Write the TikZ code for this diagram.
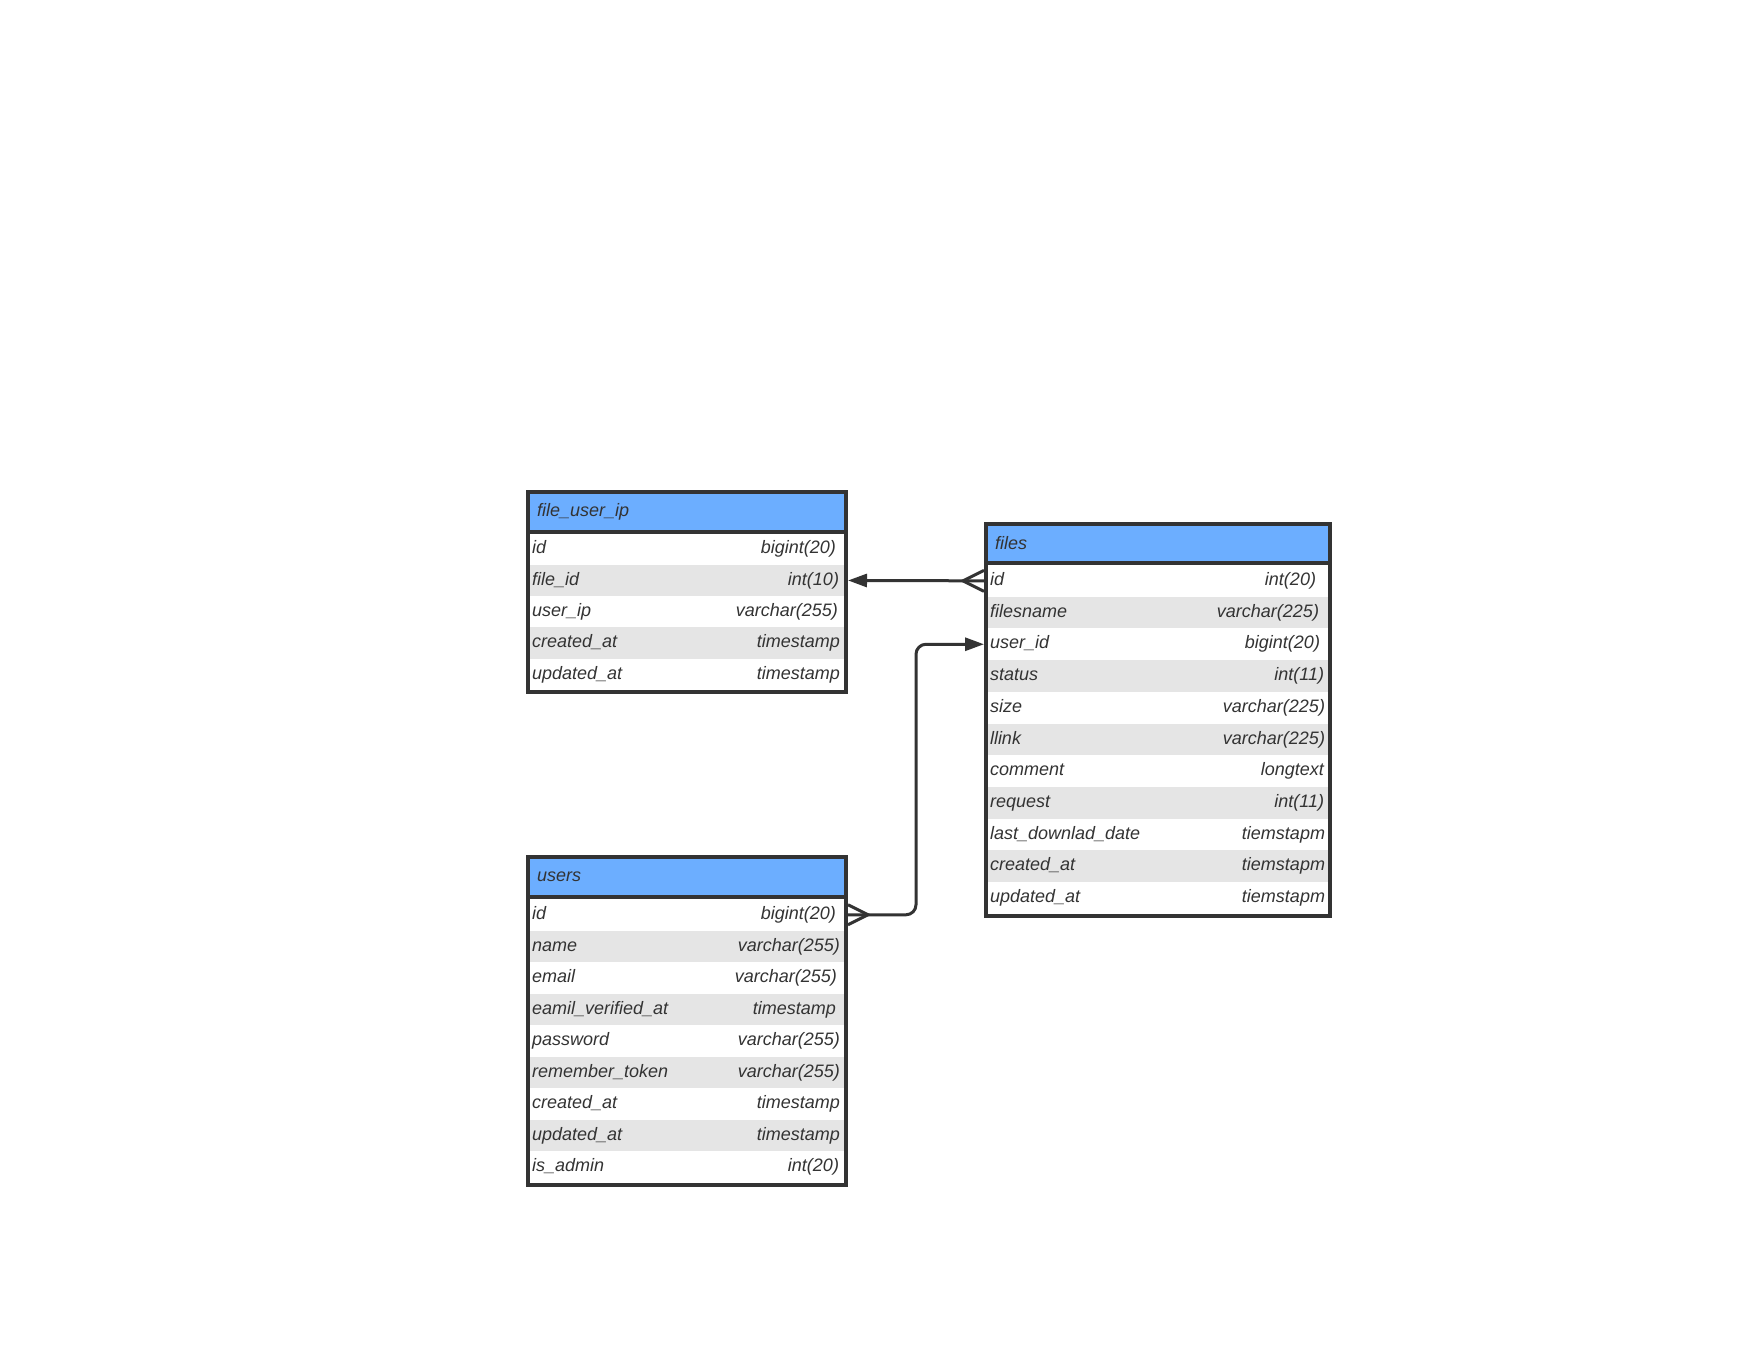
\documentclass[tikz,border=0pt]{standalone}
\usepackage{fontspec}
\setmainfont{Liberation Sans}
\usetikzlibrary{arrows.meta}
\setlength{\parindent}{0pt}

\definecolor{edge}{HTML}{333333}
\definecolor{hdrblue}{HTML}{6CAEFF}
\definecolor{rowgray}{HTML}{E5E5E5}

\tikzset{
  hdr/.style={rectangle, draw=edge, fill=hdrblue, line width=4pt, inner xsep=9pt, inner ysep=0pt, align=left},
  rowbox/.style={rectangle, inner xsep=2pt, inner ysep=0pt, outer xsep=4pt, align=left},
  narrowrow/.style={rowbox, text width=310pt},
  widerow/.style={rowbox, text width=336pt, minimum height=31.7pt},
  whitebg/.style={fill=white},
  graybg/.style={fill=rowgray},
  tabframe/.style={rectangle, draw=edge, line width=4pt},
  conn/.style={draw=edge, line width=3pt},
  onetip/.style={-{Triangle[length=19pt, width=13pt]}},
}

\begin{document}
\begin{tikzpicture}[x=1pt, y=-1pt, font=\fontsize{18pt}{21pt}\selectfont\itshape, text=edge]

        \useasboundingbox (0,0) rectangle (1759,1359);

        % file_user_ip
        \node[narrowrow, whitebg, minimum height=31.3pt] (fui1) at (687,549.15) {id\hfill bigint(20)\hspace*{6pt}};
        \node[narrowrow, graybg, minimum height=31.3pt] (fui2) at (687,580.45) {file\_id\hfill int(10)\hspace*{3pt}};
        \node[narrowrow, whitebg, minimum height=31.3pt] (fui3) at (687,611.75) {user\_ip\hfill varchar(255)\hspace*{4pt}};
        \node[narrowrow, graybg, minimum height=31.3pt] (fui4) at (687,643.05) {created\_at\hfill timestamp\hspace*{2pt}};
        \node[narrowrow, whitebg, minimum height=31.3pt] (fui5) at (687,674.35) {updated\_at\hfill timestamp\hspace*{2pt}};
        \node[hdr, text width=300pt, minimum height=39.5pt] (fuiH) at (687,511.75) {file\_user\_ip};
        \node[tabframe, minimum width=318pt, minimum height=200pt] (fuiF) at (687,592) {};

        % users
        \node[narrowrow, whitebg, minimum height=31.56pt] (users1) at (687,914.78) {id\hfill bigint(20)\hspace*{6pt}};
        \node[narrowrow, graybg, minimum height=31.56pt] (users2) at (687,946.34) {name\hfill varchar(255)\hspace*{2pt}};
        \node[narrowrow, whitebg, minimum height=31.56pt] (users3) at (687,977.90) {email\hfill varchar(255)\hspace*{5pt}};
        \node[narrowrow, graybg, minimum height=31.56pt] (users4) at (687,1009.46) {eamil\_verified\_at\hfill timestamp\hspace*{6pt}};
        \node[narrowrow, whitebg, minimum height=31.56pt] (users5) at (687,1041.02) {password\hfill varchar(255)\hspace*{2pt}};
        \node[narrowrow, graybg, minimum height=31.56pt] (users6) at (687,1072.58) {remember\_token\hfill varchar(255)\hspace*{2pt}};
        \node[narrowrow, whitebg, minimum height=31.56pt] (users7) at (687,1104.14) {created\_at\hfill timestamp\hspace*{2pt}};
        \node[narrowrow, graybg, minimum height=31.56pt] (users8) at (687,1135.70) {updated\_at\hfill timestamp\hspace*{2pt}};
        \node[narrowrow, whitebg, minimum height=31.56pt] (users9) at (687,1167.26) {is\_admin\hfill int(20)\hspace*{3pt}};
        \node[hdr, text width=300pt, minimum height=40pt] (usersH) at (687,877) {users};
        \node[tabframe, minimum width=318pt, minimum height=328pt] (usersF) at (687,1021) {};

        % files
        \node[widerow, whitebg] (files1) at (1158,580.85) {id\hfill int(20)\hspace*{10pt}};
        \node[widerow, graybg] (files2) at (1158,612.55) {filesname\hfill varchar(225)\hspace*{7pt}};
        \node[widerow, whitebg] (files3) at (1158,644.25) {user\_id\hfill bigint(20)\hspace*{6pt}};
        \node[widerow, graybg] (files4) at (1158,675.95) {status\hfill int(11)\hspace*{2pt}};
        \node[widerow, whitebg] (files5) at (1158,707.65) {size\hfill varchar(225)\hspace*{1pt}};
        \node[widerow, graybg] (files6) at (1158,739.35) {llink\hfill varchar(225)\hspace*{1pt}};
        \node[widerow, whitebg] (files7) at (1158,771.05) {comment\hfill longtext\hspace*{2pt}};
        \node[widerow, graybg] (files8) at (1158,802.75) {request\hfill int(11)\hspace*{2pt}};
        \node[widerow, whitebg] (files9) at (1158,834.45) {last\_downlad\_date\hfill tiemstapm\hspace*{1pt}};
        \node[widerow, graybg] (files10) at (1158,866.15) {created\_at\hfill tiemstapm\hspace*{1pt}};
        \node[widerow, whitebg] (files11) at (1158,897.85) {updated\_at\hfill tiemstapm\hspace*{1pt}};
        \node[hdr, text width=326pt, minimum height=39pt] (filesH) at (1158,543.5) {files};
        \node[tabframe, minimum width=344pt, minimum height=392pt] (filesF) at (1158,720) {};

        % links
        \draw[conn, onetip] (files1.west) -- (fui2.east);
        \draw[conn] ([yshift=10.5pt]files1.west) -- ([xshift=-21pt]files1.west) -- ([yshift=-10.5pt]files1.west);

        \draw[conn, onetip, rounded corners=10pt] (users1.east) -- ++(68,0) |- (files3.west);
        \draw[conn] ([yshift=10pt]users1.east) -- ([xshift=20pt]users1.east) -- ([yshift=-10pt]users1.east);

\end{tikzpicture}
\end{document}
